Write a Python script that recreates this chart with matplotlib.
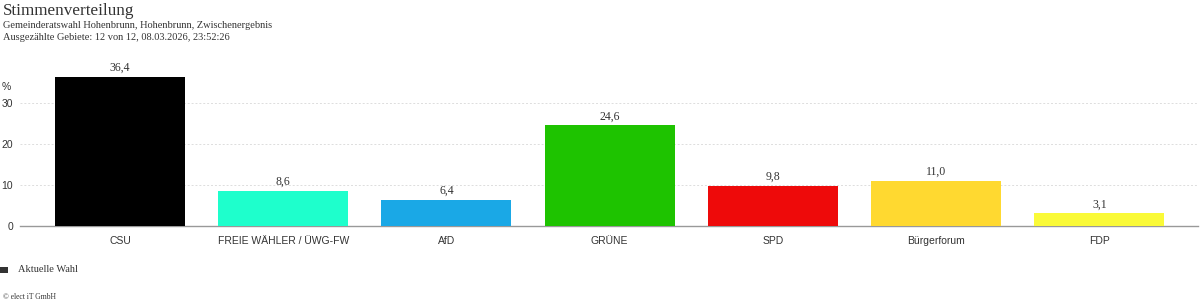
import matplotlib
matplotlib.use("Agg")
import matplotlib.pyplot as plt
from matplotlib.ticker import FixedLocator

parties = ["CSU", "FREIE WÄHLER / ÜWG-FW", "AfD", "GRÜNE", "SPD", "Bürgerforum", "FDP"]
values = [36.4, 8.6, 6.4, 24.6, 9.8, 11.0, 3.1]
colors = ["#000000", "#1effcc", "#1aa8e6", "#1ec300", "#ee0a0a", "#ffd930", "#fafa38"]
yticks = [0, 10, 20, 30]

W, H = 1200, 307
fig = plt.figure(figsize=(W / 100, H / 100), dpi=100)
fig.patch.set_facecolor("white")

ax_left, ax_right = 20, 1198
ax_bottom, ax_top = 226, 62
ax = fig.add_axes([ax_left / W, 1 - ax_bottom / H, (ax_right - ax_left) / W, (ax_bottom - ax_top) / H])

x = list(range(len(parties)))
ax.bar(x, values, width=0.797, color=colors, edgecolor="none", zorder=3)

ax.set_xlim(-0.613, 6.605)
ax.set_ylim(0, 40)

for xi, v in zip(x, values):
    ax.text(xi, v + 0.7, f"{v:.1f}".replace(".", ","), ha="center", va="bottom",
            fontsize=8.5, family="Liberation Serif", color="#333333")

for s in ["top", "right", "left"]:
    ax.spines[s].set_visible(False)
ax.spines["bottom"].set_color("#999999")
ax.spines["bottom"].set_linewidth(1.0)

ax.yaxis.set_major_locator(FixedLocator(yticks))
ax.set_yticks(yticks)
ax.set_yticklabels([str(t) for t in yticks], fontsize=7.5, family="Liberation Sans", color="#333333")
ax.tick_params(axis="y", length=0, pad=5)
ax.set_xticks(x)
ax.set_xticklabels(parties, fontsize=7.5, family="Liberation Sans", color="#333333")
ax.tick_params(axis="x", length=0, pad=7.5)

for t in yticks[1:]:
    ax.axhline(t, color="#dddddd", linestyle=(0, (2, 2)), linewidth=0.7, zorder=1)

fig.text(2 / W, 1 - 87 / H, "%", fontsize=7.5, family="Liberation Sans", color="#333333", va="center")

fig.text(3 / W, 1 - 11 / H, "Stimmenverteilung", fontsize=12.3, family="Liberation Serif", color="#333333", va="center")
fig.text(3 / W, 1 - 25 / H, "Gemeinderatswahl Hohenbrunn, Hohenbrunn, Zwischenergebnis", fontsize=7.5,
         family="Liberation Serif", color="#333333", va="center")
fig.text(3 / W, 1 - 38 / H, "Ausgezählte Gebiete: 12 von 12, 08.03.2026, 23:52:26", fontsize=7.5,
         family="Liberation Serif", color="#333333", va="center")

# legend
fig.patches.append(plt.Rectangle((0 / W, 1 - 273 / H), 8 / W, 6 / H, transform=fig.transFigure,
                                 facecolor="#333333", edgecolor="none"))
fig.text(18 / W, 1 - 270 / H, "Aktuelle Wahl", fontsize=7.5, family="Liberation Serif", color="#333333", va="center")
fig.text(3 / W, 1 - 297 / H, "© elect iT GmbH", fontsize=5.5, family="Liberation Serif", color="#333333", va="center")

fig.savefig("out.png", dpi=100, facecolor="white")
